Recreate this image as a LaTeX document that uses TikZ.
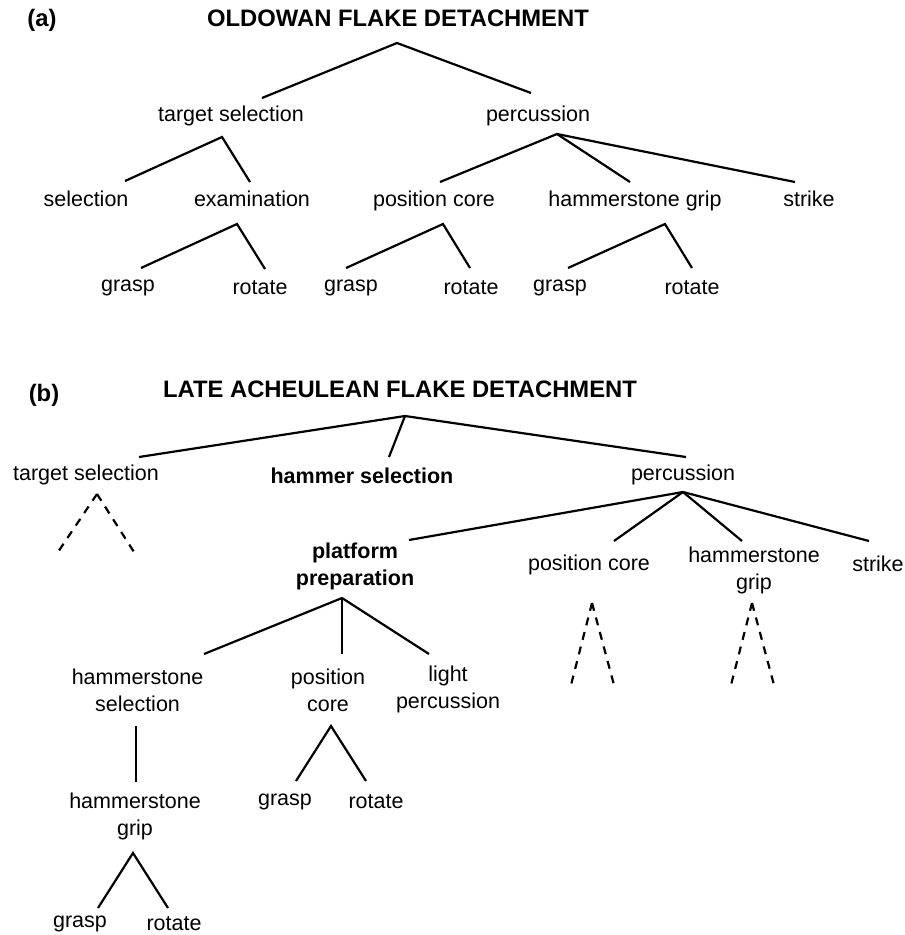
\documentclass[tikz,border=0pt]{standalone}
\usepackage{fontspec}
\setmainfont{Liberation Sans}
\tikzset{
  lbl/.style={anchor=base, inner sep=0pt, align=center, font=\fontsize{21.5}{27}\selectfont},
  blbl/.style={anchor=base, inner sep=0pt, align=center, font=\fontsize{21.5}{27}\selectfont\bfseries},
  ttl/.style={anchor=base, inner sep=0pt, font=\fontsize{23.8}{28}\selectfont\bfseries},
  edge/.style={line width=2.2pt},
  dedge/.style={line width=2.2pt, dash pattern=on 8pt off 7pt},
}
\begin{document}
\begin{tikzpicture}[x=1pt,y=-1pt]
\useasboundingbox (0,0) rectangle (905,935);
% ---------------- panel (a)
\node[ttl] (alab) at (42,26) {(a)};
\node[ttl] (atitle) at (398,26) {OLDOWAN FLAKE DETACHMENT};
\coordinate (aR) at (397,43);
\coordinate (aR1) at (262,98);
\coordinate (aR2) at (531,93);
\draw[edge] (aR1) -- (aR) -- (aR2);
\node[lbl] (ats) at (231,121) {target selection};
\node[lbl] (aper) at (538,121) {percussion};
\coordinate (atsA) at (222,137);
\coordinate (atsL) at (125,181);
\coordinate (atsR) at (250,182);
\draw[edge] (atsL) -- (atsA) -- (atsR);
\node[lbl] (asel) at (86,206) {selection};
\node[lbl] (aexa) at (252,206) {examination};
\coordinate (aexA) at (237,224);
\coordinate (aexL) at (141,268);
\coordinate (aexR) at (265,269);
\draw[edge] (aexL) -- (aexA) -- (aexR);
\node[lbl] (ag1) at (128,291) {grasp};
\node[lbl] (ar1) at (260,294) {rotate};
\coordinate (aperA) at (557,134);
\coordinate (aperL) at (440,182);
\coordinate (aperM) at (630,182);
\coordinate (aperR) at (795,182);
\draw[edge] (aperL) -- (aperA) -- (aperM);
\draw[edge] (aperA) -- (aperR);
\node[lbl] (apc) at (434,206) {position core};
\node[lbl] (ahg) at (635,206) {hammerstone grip};
\node[lbl] (ast) at (809,206) {strike};
\coordinate (apcA) at (443,224);
\coordinate (apcL) at (346,268);
\coordinate (apcR) at (470,268);
\draw[edge] (apcL) -- (apcA) -- (apcR);
\node[lbl] (ag2) at (351,291) {grasp};
\node[lbl] (ar2) at (471,294) {rotate};
\coordinate (ahgA) at (665,224);
\coordinate (ahgL) at (568,268);
\coordinate (ahgR) at (692,268);
\draw[edge] (ahgL) -- (ahgA) -- (ahgR);
\node[lbl] (ag3) at (560,291) {grasp};
\node[lbl] (ar3) at (692,294) {rotate};
% ---------------- panel (b)
\node[ttl] (blab) at (44,401) {(b)};
\node[ttl] (btitle) at (400,397) {LATE ACHEULEAN FLAKE DETACHMENT};
\coordinate (bR) at (405,416);
\coordinate (bRL) at (139,457);
\coordinate (bRM) at (389,457);
\coordinate (bRR) at (686,457);
\draw[edge] (bRL) -- (bR) -- (bRR);
\draw[edge] (bR) -- (bRM);
\node[lbl] (bts) at (86,480) {target selection};
\node[blbl] (bhs) at (362,483) {hammer selection};
\node[lbl] (bper) at (683,480) {percussion};
\coordinate (btsA) at (97,494);
\coordinate (btsL) at (58,552);
\coordinate (btsR) at (134,552);
\draw[dedge] (btsA) -- (btsL);
\draw[dedge] (btsA) -- (btsR);
\coordinate (bperA) at (683,492);
\coordinate (bper1) at (409,540);
\coordinate (bper2) at (614,541);
\coordinate (bper3) at (742,541);
\coordinate (bper4) at (869,541);
\draw[edge] (bper1) -- (bperA) -- (bper4);
\draw[edge] (bperA) -- (bper2);
\draw[edge] (bperA) -- (bper3);
\node[blbl] (bpp) at (355,585) {platform\\preparation};
\node[lbl] (bpc) at (589,570) {position core};
\node[lbl] (bhg) at (754,589) {hammerstone\\grip};
\node[lbl] (bst) at (878,571) {strike};
\coordinate (bpcA) at (592,603);
\coordinate (bpcL) at (571,685);
\coordinate (bpcR) at (614,685);
\draw[dedge] (bpcA) -- (bpcL);
\draw[dedge] (bpcA) -- (bpcR);
\coordinate (bhgA) at (752,603);
\coordinate (bhgL) at (731,685);
\coordinate (bhgR) at (774,685);
\draw[dedge] (bhgA) -- (bhgL);
\draw[dedge] (bhgA) -- (bhgR);
\coordinate (bppA) at (342,598);
\coordinate (bppL) at (204,654);
\coordinate (bppM) at (342,654);
\coordinate (bppR) at (429,654);
\draw[edge] (bppL) -- (bppA) -- (bppR);
\draw[edge] (bppA) -- (bppM);
\node[lbl] (bhsel) at (137.5,711) {hammerstone\\selection};
\node[lbl] (bpc2) at (328,711) {position\\core};
\node[lbl] (blp) at (448,708) {light\\percussion};
\coordinate (bhselB) at (136,726);
\coordinate (bhg2T) at (136,782);
\draw[edge] (bhselB) -- (bhg2T);
\node[lbl] (bhg2) at (135,835) {hammerstone\\grip};
\coordinate (bhg2A) at (133,853);
\coordinate (bhg2L) at (98,908);
\coordinate (bhg2R) at (168,908);
\draw[edge] (bhg2L) -- (bhg2A) -- (bhg2R);
\node[lbl] (bg1) at (80,927) {grasp};
\node[lbl] (br1) at (174,930) {rotate};
\coordinate (bpc2A) at (331,726);
\coordinate (bpc2L) at (296,781);
\coordinate (bpc2R) at (366,781);
\draw[edge] (bpc2L) -- (bpc2A) -- (bpc2R);
\node[lbl] (bg2) at (285,805) {grasp};
\node[lbl] (br2) at (376,808) {rotate};
\end{tikzpicture}
\end{document}
